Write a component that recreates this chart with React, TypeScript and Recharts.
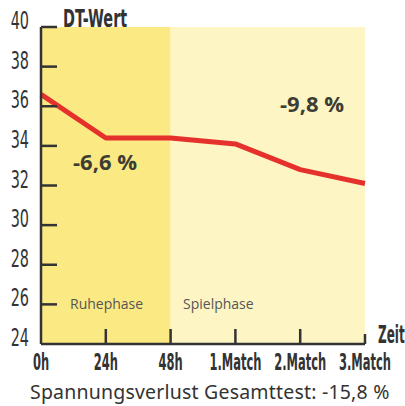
import React from "react";
import {
  LineChart,
  Line,
  XAxis,
  YAxis,
  ReferenceArea,
} from "recharts";

const categories = ["0h", "24h", "48h", "1.Match", "2.Match", "3.Match"];
const dtWert = [36.6, 34.4, 34.4, 34.1, 32.8, 32.1];
const yTicks = [24, 26, 28, 30, 32, 34, 36, 38, 40];

const data = categories.map((c, i) => ({ zeit: c, wert: dtWert[i] }));

const COND = "'DejaVu Sans', sans-serif";
const INK = "#333";

function YTick(props: any) {
  const { x, y, payload } = props;
  return (
    <g>
      {payload.value !== 24 && (
        <line x1={x} x2={x + 16} y1={y} y2={y} stroke={INK} strokeWidth={2.5} />
      )}
      <text
        transform={`translate(${x - 12},${y + 2}) scale(0.6,1)`}
        textAnchor="end"
        fontSize={24}
        fill={INK}
        fontFamily={COND}
      >
        {payload.value}
      </text>
    </g>
  );
}

function XTick(props: any) {
  const { x, y, payload, index } = props;
  const len = index === categories.length - 1 ? 10 : 15;
  return (
    <g>
      {index > 0 && (
        <line x1={x} x2={x} y1={y} y2={y - len} stroke={INK} strokeWidth={2.5} />
      )}
      <text
        transform={`translate(${x},${y + 26}) scale(0.5,1)`}
        textAnchor="middle"
        fontSize={23}
        fontWeight={700}
        fill={INK}
        fontFamily={COND}
      >
        {payload.value}
      </text>
    </g>
  );
}

const note: React.CSSProperties = {
  position: "absolute",
  fontFamily: "'Open Sans', sans-serif",
  fontWeight: 700,
  fontSize: 22,
  color: "#3d3d33",
  whiteSpace: "nowrap",
  lineHeight: 1,
};

const cond: React.CSSProperties = {
  ...note,
  fontFamily: COND,
  color: INK,
  transformOrigin: "left top",
};

export default function App() {
  return (
    <div style={{ position: "absolute", left: 0, top: 0, width: 405, height: 406, background: "#fff" }}>
      <LineChart
        width={405}
        height={406}
        data={data}
        margin={{ top: 27, right: 40, bottom: 0, left: 0 }}
      >
        <ReferenceArea x1="0h" x2="48h" y1={24} y2={40} fill="#fbe983" fillOpacity={1} stroke="none" />
        <ReferenceArea x1="48h" x2="3.Match" y1={24} y2={40} fill="#fdf5c3" fillOpacity={1} stroke="none" />
        <XAxis
          dataKey="zeit"
          height={62}
          padding={{ left: 0, right: 0 }}
          stroke={INK}
          strokeWidth={2.5}
          tickLine={false}
          tickSize={0}
          tickMargin={0}
          tick={<XTick />}
          interval={0}
        />
        <YAxis
          domain={[24, 40]}
          ticks={yTicks}
          width={41}
          stroke={INK}
          strokeWidth={2.5}
          tickLine={false}
          tickSize={0}
          tickMargin={0}
          tick={<YTick />}
          interval={0}
        />
        <Line
          type="linear"
          dataKey="wert"
          stroke="#e5312c"
          strokeWidth={5}
          strokeLinejoin="round"
          dot={false}
          isAnimationActive={false}
        />
      </LineChart>
      <div style={{ ...cond, left: 63, top: 7, fontSize: 24, transform: "scaleX(0.6)" }}>DT-Wert</div>
      <div style={{ ...cond, left: 378, top: 323, fontSize: 24, transform: "scaleX(0.5)" }}>Zeit</div>
      <div style={{ ...note, left: 73, top: 150 }}>-6,6 %</div>
      <div style={{ ...note, left: 280, top: 92 }}>-9,8 %</div>
      <div style={{ ...note, left: 70, top: 297, fontSize: 14, fontWeight: 400, color: "#555" }}>Ruhephase</div>
      <div style={{ ...note, left: 183, top: 297, fontSize: 14, fontWeight: 400, color: "#555" }}>Spielphase</div>
      <div style={{ ...note, left: 30, top: 382, fontFamily: "'Noto Sans', sans-serif", fontSize: 19.5, fontWeight: 400, color: INK, letterSpacing: 0.2 }}>
        Spannungsverlust Gesamttest: -15,8 %
      </div>
    </div>
  );
}
